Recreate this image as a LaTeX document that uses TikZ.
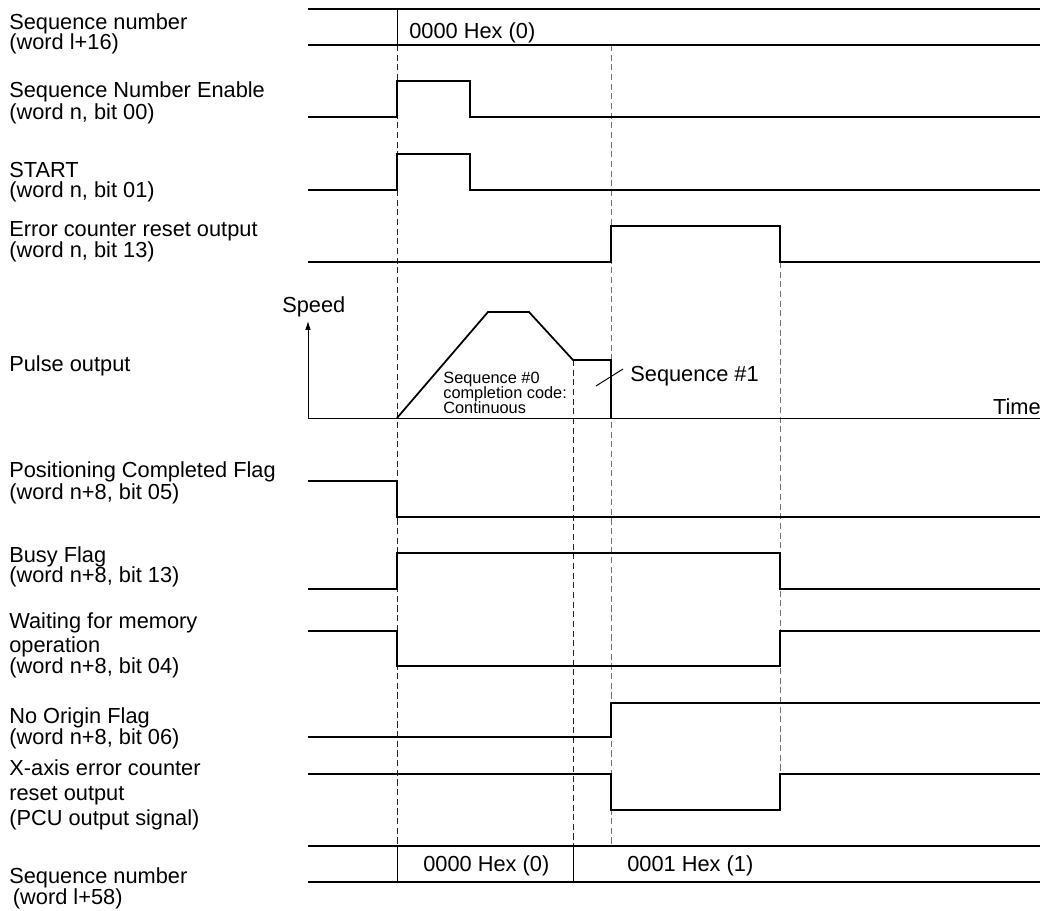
\documentclass[tikz,border=0pt]{standalone}
\usepackage{fontspec}
\setmainfont{Liberation Sans}
\usetikzlibrary{arrows.meta}

\begin{document}
\begin{tikzpicture}[x=0.02cm, y=-0.02cm,
	signal/.style={line width=1pt},
	busline/.style={line width=0.9pt},
	axis/.style={line width=0.55pt},
	guide/.style={dash pattern=on 3.5pt off 2pt, line width=0.45pt, black!85},
	faint/.style={guide, black!55},
	lbl/.style={anchor=base west, inner sep=0pt, align=left, font=\fontsize{12.4}{11.9}\selectfont},
	note/.style={anchor=base west, inner sep=0pt, align=left, font=\fontsize{9.3}{8.8}\selectfont}]
	\useasboundingbox (0,0) rectangle (1042,911);
	% signal names (placed at the baseline of their last line)
	\node (seqtop) [lbl] at (9,50) {Sequence number\\(word l+16)};
	\node (enable) [lbl] at (9,120) {Sequence Number Enable\\[1.1pt](word n, bit 00)};
	\node (start) [lbl] at (9,198) {START\\[-0.5pt](word n, bit 01)};
	\node (ecreset) [lbl] at (9,258) {Error counter reset output\\[0.6pt](word n, bit 13)};
	\node (pulse) [lbl] at (9,372) {Pulse output};
	\node (poscomp) [lbl] at (9,500) {Positioning Completed Flag\\[1.1pt](word n+8, bit 05)};
	\node (busy) [lbl] at (9,583) {Busy Flag\\(word n+8, bit 13)};
	\node (waitmem) [lbl] at (9,674) {Waiting for memory\\[1.4pt]operation\\[0.6pt](word n+8, bit 04)};
	\node (noorigin) [lbl] at (9,745) {No Origin Flag\\[0.6pt](word n+8, bit 06)};
	\node (xreset) [lbl] at (9,826) {X-axis error counter\\[2.3pt]reset output\\[2.5pt](PCU output signal)};
	\node (seqbot) [lbl] at (9,905) {Sequence number\\[0.6pt]\,(word l+58)};
	% guide lines
	\draw [guide] (397,45) -- (397,846);
	\draw [guide] (573,360) -- (573,846);
	\draw [faint] (611,45) -- (611,846);
	\draw [faint] (780,262) -- (780,774);
	% sequence number, word l+16
	\draw [busline] (308,9) -- (1040,9);
	\draw [busline] (308,45) -- (1040,45);
	\draw [axis] (397,9) -- (397,45);
	\node (hexa) [lbl] at (409,39) {0000 Hex (0)};
	% bit signals
	\draw [signal] (308,117) -- (397,117) -- (397,81) -- (470,81) -- (470,117) -- (1040,117);
	\draw [signal] (308,190) -- (397,190) -- (397,154) -- (470,154) -- (470,190) -- (1040,190);
	\draw [signal] (308,262) -- (611,262) -- (611,226) -- (780,226) -- (780,262) -- (1040,262);
	% pulse output
	\draw [axis] (308,418) -- (1040,418);
	\draw [axis, -{Latex[length=5pt, width=3.2pt]}] (308,418) -- (308,321);
	\node (speed) [lbl] at (282,313) {Speed};
	\node (time) [lbl, anchor=base east] at (1041,415) {Time};
	\draw [signal] (397,418) -- (488,312) -- (529,312) -- (573,360) -- (611,360) -- (611,418);
	\node (seqzero) [note] at (443,414) {Sequence \#0\\completion code:\\Continuous};
	\node (seqone) [lbl] at (630,382) {Sequence \#1};
	\coordinate (leadfoot) at (596,386);
	\coordinate (leadhead) at (623,369);
	\draw [axis] (leadfoot) -- (leadhead);
	% flags
	\draw [signal] (308,481) -- (397,481) -- (397,517) -- (1040,517);
	\draw [signal] (308,589) -- (397,589) -- (397,553) -- (780,553) -- (780,589) -- (1040,589);
	\draw [signal] (308,631) -- (397,631) -- (397,666) -- (780,666) -- (780,631) -- (1040,631);
	\draw [signal] (308,737) -- (611,737) -- (611,703) -- (1040,703);
	\draw [signal] (308,774) -- (611,774) -- (611,810) -- (780,810) -- (780,774) -- (1040,774);
	% sequence number, word l+58
	\draw [busline] (308,846) -- (1040,846);
	\draw [busline, line width=1.2pt] (308,882) -- (1040,882);
	\draw [axis] (397,846) -- (397,882);
	\draw [axis] (573,846) -- (573,882);
	\node (hexb) [lbl] at (423,872) {0000 Hex (0)};
	\node (hexc) [lbl] at (627,872) {0001 Hex (1)};
\end{tikzpicture}
\end{document}
